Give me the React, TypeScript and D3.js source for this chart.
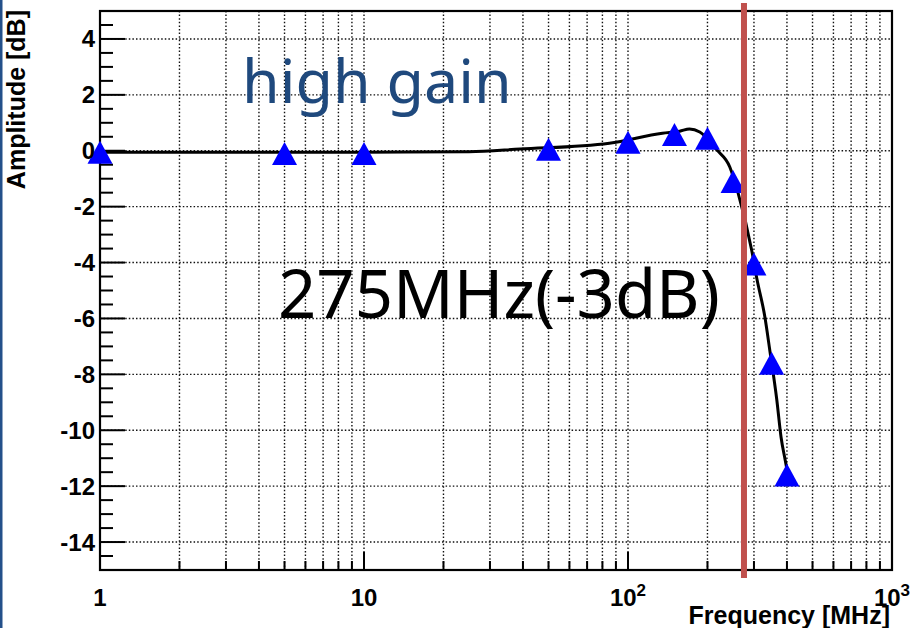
import React from "react"
import * as d3 from "d3"

// measured points (MHz, dB)
const freqs = [1, 5, 10, 50, 100, 150, 200, 250, 300, 350, 400]
const gains = [-0.05, -0.1, -0.1, 0.05, 0.3, 0.58, 0.45, -1.1, -4.05, -7.6, -11.6]

// fitted curve
const fitFreqs = [1, 10, 25, 39, 85, 135, 157, 171, 187, 217, 243, 261, 294, 308, 330, 344, 366, 380, 394, 400]
const fitGains = [-0.05, -0.05, -0.04, 0.06, 0.27, 0.63, 0.7, 0.78, 0.67, 0.03, -0.58, -1.5, -3.55, -4.6, -5.95, -7.1, -8.9, -10.25, -11.07, -11.4]

const yMajor = [4, 2, 0, -2, -4, -6, -8, -10, -12, -14]
const xDecades = [1, 10, 100, 1000]
const xDecadeLabels = [["1", ""], ["10", ""], ["10", "2"], ["10", "3"]]
const cutoff = 275

const W = 912
const H = 628

export default function App() {
  const ref = React.useRef<SVGSVGElement>(null)

  React.useEffect(() => {
    const svg = d3.select(ref.current)
    svg.selectAll("*").remove()

    const m = { left: 100, right: 892, top: 11, bottom: 570 }
    const x = d3.scaleLog().domain([1, 1000]).range([m.left, m.right])
    const y = d3.scaleLinear().domain([-15, 5]).range([m.bottom, m.top])

    svg.append("rect").attr("width", W).attr("height", H).attr("fill", "white")
    // slide edge
    svg.append("rect").attr("x", 0).attr("y", 0).attr("width", 2.5).attr("height", H).attr("fill", "#24508a")

    // minor x ticks 1..9 per decade
    const xTicks: number[] = []
    for (let d = 1; d < 1000; d *= 10) for (let k = 1; k < 10; k++) xTicks.push(d * k)
    xTicks.push(1000)

    const grid = svg.append("g").attr("stroke", "#111").attr("stroke-width", 1.4).attr("stroke-dasharray", "1.5,2.1")
    grid.selectAll(".vx").data(xTicks.filter(t => t > 1 && t < 1000)).enter().append("line")
      .attr("x1", d => x(d)).attr("x2", d => x(d))
      .attr("y1", m.top).attr("y2", m.bottom)
    grid.selectAll(".hy").data(yMajor).enter().append("line")
      .attr("x1", m.left).attr("x2", m.right)
      .attr("y1", d => y(d)).attr("y2", d => y(d))

    // ticks
    const ticks = svg.append("g").attr("stroke", "black").attr("stroke-width", 2)
    ticks.selectAll(".tx").data(xTicks).enter().append("line")
      .attr("x1", d => x(d)).attr("x2", d => x(d))
      .attr("y1", m.bottom)
      .attr("y2", d => m.bottom - (xDecades.includes(d) ? 18 : 9))
    const yTicks = d3.range(-15, 5.01, 0.5)
    ticks.selectAll(".ty").data(yTicks).enter().append("line")
      .attr("y1", d => y(d)).attr("y2", d => y(d))
      .attr("x1", m.left)
      .attr("x2", d => m.left + (yMajor.includes(d) ? 25 : 13))

    // frame
    svg.append("rect")
      .attr("x", m.left).attr("y", m.top)
      .attr("width", m.right - m.left).attr("height", m.bottom - m.top)
      .attr("fill", "none").attr("stroke", "black").attr("stroke-width", 2.2)

    // fit curve
    const line = d3.line<number>()
      .curve(d3.curveMonotoneX)
      .x((d, i) => x(fitFreqs[i]))
      .y(d => y(d))
    svg.append("path")
      .datum(fitGains)
      .attr("fill", "none")
      .attr("stroke", "black")
      .attr("stroke-width", 3)
      .attr("stroke-linejoin", "round")
      .attr("d", line)

    // markers
    const tw = 25, th = 23
    svg.selectAll(".pt").data(gains).enter().append("path")
      .attr("transform", (d, i) => `translate(${x(freqs[i])},${y(d)})`)
      .attr("d", `M0,${-th / 2}L${tw / 2},${th / 2}L${-tw / 2},${th / 2}Z`)
      .attr("fill", "#0000ff")

    // tick labels
    const font = "'Liberation Sans', Arial, sans-serif"
    svg.selectAll(".ly").data(yMajor).enter().append("text")
      .attr("x", 95).attr("y", d => y(d) + 8.5)
      .attr("text-anchor", "end")
      .attr("font-family", font).attr("font-weight", "bold").attr("font-size", 24)
      .text(d => d)

    const lx = svg.selectAll(".lx").data(xDecades).enter().append("text")
      .attr("x", d => x(d)).attr("y", 606)
      .attr("text-anchor", "middle")
      .attr("font-family", font).attr("font-weight", "bold").attr("font-size", 24)
    lx.append("tspan").text((d, i) => xDecadeLabels[i][0])
    lx.append("tspan").attr("dy", -10).attr("font-size", 17).text((d, i) => xDecadeLabels[i][1])

    // axis titles
    svg.append("text")
      .attr("x", 890).attr("y", 624)
      .attr("text-anchor", "end")
      .attr("font-family", font).attr("font-weight", "bold").attr("font-size", 25)
      .text("Frequency [MHz]")
    svg.append("text")
      .attr("transform", "translate(25,10) rotate(-90)")
      .attr("text-anchor", "end")
      .attr("font-family", font).attr("font-weight", "bold").attr("font-size", 25)
      .text("Amplitude [dB]")

    // annotations
    svg.append("text")
      .attr("x", 242).attr("y", 103)
      .attr("font-family", "'Noto Sans', sans-serif").attr("font-size", 61)
      .attr("fill", "#1f497d")
      .text("high gain")
    svg.append("text")
      .attr("x", 278).attr("y", 318)
      .attr("font-family", "'Noto Sans', sans-serif").attr("font-size", 67)
      .attr("fill", "black")
      .text("275MHz(-3dB)")

    // -3dB cutoff marker
    svg.append("line")
      .attr("x1", x(cutoff)).attr("x2", x(cutoff))
      .attr("y1", 3).attr("y2", 578)
      .attr("stroke", "#c0504d").attr("stroke-width", 6)
  }, [])

  return (
    <svg ref={ref} width={W} height={H} style={{ position: "absolute", left: 0, top: 0 }} />
  )
}
